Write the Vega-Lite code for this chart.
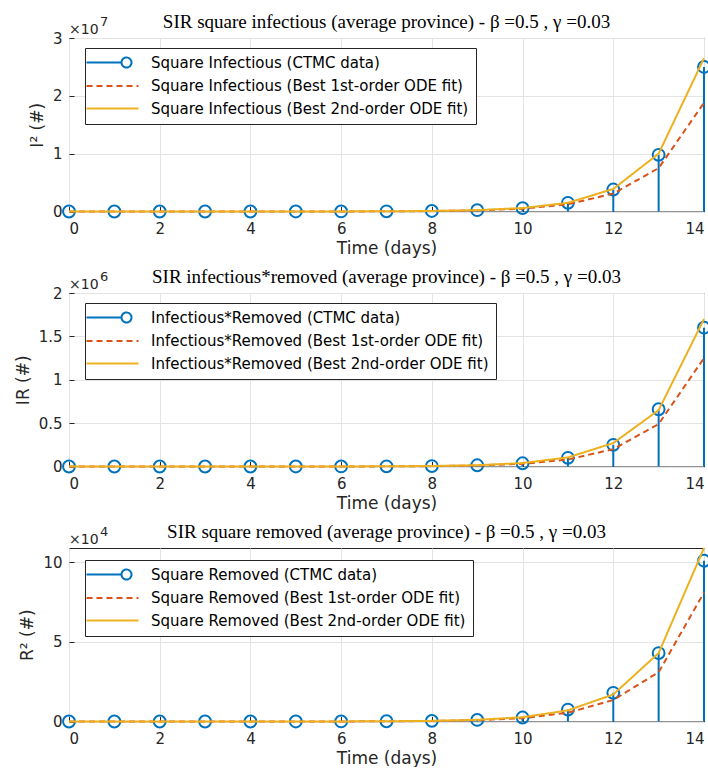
{
  "$schema": "https://vega.github.io/schema/vega-lite/v6.json",
  "padding": {"left": 13, "top": 12, "right": 0, "bottom": 0},
  "background": "white",
  "spacing": 10,
  "resolve": {"scale": {"color": "independent", "strokeDash": "independent"}},
  "config": {
    "font": "DejaVu Sans",
    "view": {"stroke": "#262626", "strokeWidth": 1},
    "axis": {
      "labelFont": "DejaVu Sans", "labelFontSize": 15, "labelColor": "#262626",
      "titleFont": "DejaVu Sans", "titleFontSize": 17, "titleFontWeight": "normal", "titleColor": "#262626",
      "gridColor": "#e3e3e3", "gridOpacity": 1, "domain": false, "tickColor": "#262626", "tickSize": -5
    },
    "axisX": {"labelPadding": 15, "titlePadding": 4},
    "axisY": {"labelPadding": 12, "titlePadding": 6},
    "title": {"font": "Liberation Serif", "fontSize": 19, "fontWeight": "normal", "color": "#000000", "offset": -16},
    "legend": {
      "fillColor": "white", "strokeColor": "#262626", "padding": 7,
      "labelFont": "DejaVu Sans", "labelFontSize": 15, "labelColor": "#000000", "labelLimit": 600,
      "symbolSize": 100, "symbolStrokeWidth": 2, "labelOffset": 44, "rowPadding": 6.5, "cornerRadius": 0
    }
  },
  "vconcat": [
    {
      "width": 635, "height": 173.5,
      "title": "SIR square infectious (average province) - β =0.5 , γ =0.03",
      "data": {"values": [
        {"day": 0, "series": "Square Infectious (CTMC data)", "value": 50},
        {"day": 1, "series": "Square Infectious (CTMC data)", "value": 120},
        {"day": 2, "series": "Square Infectious (CTMC data)", "value": 320},
        {"day": 3, "series": "Square Infectious (CTMC data)", "value": 800},
        {"day": 4, "series": "Square Infectious (CTMC data)", "value": 2100},
        {"day": 5, "series": "Square Infectious (CTMC data)", "value": 5400},
        {"day": 6, "series": "Square Infectious (CTMC data)", "value": 14000},
        {"day": 7, "series": "Square Infectious (CTMC data)", "value": 35000},
        {"day": 8, "series": "Square Infectious (CTMC data)", "value": 90000},
        {"day": 9, "series": "Square Infectious (CTMC data)", "value": 230000},
        {"day": 10, "series": "Square Infectious (CTMC data)", "value": 580000},
        {"day": 11, "series": "Square Infectious (CTMC data)", "value": 1500000},
        {"day": 12, "series": "Square Infectious (CTMC data)", "value": 3800000},
        {"day": 13, "series": "Square Infectious (CTMC data)", "value": 9800000},
        {"day": 14, "series": "Square Infectious (CTMC data)", "value": 25000000},
        {"day": 0, "series": "Square Infectious (Best 1st-order ODE fit)", "value": 50},
        {"day": 1, "series": "Square Infectious (Best 1st-order ODE fit)", "value": 120},
        {"day": 2, "series": "Square Infectious (Best 1st-order ODE fit)", "value": 300},
        {"day": 3, "series": "Square Infectious (Best 1st-order ODE fit)", "value": 760},
        {"day": 4, "series": "Square Infectious (Best 1st-order ODE fit)", "value": 1900},
        {"day": 5, "series": "Square Infectious (Best 1st-order ODE fit)", "value": 4800},
        {"day": 6, "series": "Square Infectious (Best 1st-order ODE fit)", "value": 12000},
        {"day": 7, "series": "Square Infectious (Best 1st-order ODE fit)", "value": 30000},
        {"day": 8, "series": "Square Infectious (Best 1st-order ODE fit)", "value": 76000},
        {"day": 9, "series": "Square Infectious (Best 1st-order ODE fit)", "value": 190000},
        {"day": 10, "series": "Square Infectious (Best 1st-order ODE fit)", "value": 480000},
        {"day": 11, "series": "Square Infectious (Best 1st-order ODE fit)", "value": 1250000},
        {"day": 12, "series": "Square Infectious (Best 1st-order ODE fit)", "value": 3100000},
        {"day": 13, "series": "Square Infectious (Best 1st-order ODE fit)", "value": 7500000},
        {"day": 14, "series": "Square Infectious (Best 1st-order ODE fit)", "value": 18800000},
        {"day": 0, "series": "Square Infectious (Best 2nd-order ODE fit)", "value": 60},
        {"day": 1, "series": "Square Infectious (Best 2nd-order ODE fit)", "value": 150},
        {"day": 2, "series": "Square Infectious (Best 2nd-order ODE fit)", "value": 380},
        {"day": 3, "series": "Square Infectious (Best 2nd-order ODE fit)", "value": 950},
        {"day": 4, "series": "Square Infectious (Best 2nd-order ODE fit)", "value": 2400},
        {"day": 5, "series": "Square Infectious (Best 2nd-order ODE fit)", "value": 6000},
        {"day": 6, "series": "Square Infectious (Best 2nd-order ODE fit)", "value": 15000},
        {"day": 7, "series": "Square Infectious (Best 2nd-order ODE fit)", "value": 38000},
        {"day": 8, "series": "Square Infectious (Best 2nd-order ODE fit)", "value": 95000},
        {"day": 9, "series": "Square Infectious (Best 2nd-order ODE fit)", "value": 240000},
        {"day": 10, "series": "Square Infectious (Best 2nd-order ODE fit)", "value": 600000},
        {"day": 11, "series": "Square Infectious (Best 2nd-order ODE fit)", "value": 1500000},
        {"day": 12, "series": "Square Infectious (Best 2nd-order ODE fit)", "value": 3900000},
        {"day": 13, "series": "Square Infectious (Best 2nd-order ODE fit)", "value": 10000000},
        {"day": 14, "series": "Square Infectious (Best 2nd-order ODE fit)", "value": 26500000}
      ]},
      "encoding": {
        "x": {"field": "day", "type": "quantitative", "scale": {"domain": [0, 14], "nice": false, "zero": false},
              "axis": {"title": "Time (days)", "values": [0, 2, 4, 6, 8, 10, 12, 14], "grid": true}}
      },
      "layer": [
        {
          "transform": [{"filter": "indexof(datum.series, 'CTMC') >= 0"}],
          "mark": {"type": "rule", "color": "#0072BD", "strokeWidth": 2},
          "encoding": {
            "y": {"field": "value", "type": "quantitative", "scale": {"domain": [0, 30000000], "nice": false},
                  "axis": {"title": "I² (#)", "values": [0, 10000000, 20000000, 30000000], "labelExpr": "format(datum.value / 1e7, '~g')", "grid": true}},
            "y2": {"datum": 0}
          }
        },
        {
          "transform": [{"filter": "indexof(datum.series, 'CTMC') >= 0"}],
          "mark": {"type": "point", "shape": "circle", "filled": false, "color": "#0072BD", "size": 140, "strokeWidth": 2, "opacity": 1},
          "encoding": {"y": {"field": "value", "type": "quantitative"}}
        },
        {
          "transform": [{"filter": "indexof(datum.series, '1st') >= 0"}],
          "mark": {"type": "line", "strokeWidth": 2},
          "encoding": {
            "y": {"field": "value", "type": "quantitative"},
            "color": {"field": "series", "type": "nominal",
              "scale": {"domain": ["Square Infectious (CTMC data)", "Square Infectious (Best 1st-order ODE fit)", "Square Infectious (Best 2nd-order ODE fit)"], "range": ["#0072BD", "#D95319", "#EDB120"]},
              "legend": {"title": null, "orient": "none", "legendX": 16, "legendY": 10,
                "encode": {"symbols": {"update": {"shape": {"signal": "indexof(datum.value, 'CTMC') >= 0 ? 'M-2.6,0H4.4M6.4,0A1,1 0 1,1 4.4,0A1,1 0 1,1 6.4,0' : 'M-2.6,0H7.8'"}, "fill": {"value": "transparent"}}}}}},
            "strokeDash": {"field": "series", "type": "nominal",
              "scale": {"domain": ["Square Infectious (CTMC data)", "Square Infectious (Best 1st-order ODE fit)", "Square Infectious (Best 2nd-order ODE fit)"], "range": [[1, 0], [6, 4], [1, 0]]},
              "legend": {"title": null, "orient": "none", "legendX": 16, "legendY": 10}}
          }
        },
        {
          "transform": [{"filter": "indexof(datum.series, '2nd') >= 0"}],
          "mark": {"type": "line", "strokeWidth": 2},
          "encoding": {
            "y": {"field": "value", "type": "quantitative"},
            "color": {"field": "series", "type": "nominal"},
            "strokeDash": {"field": "series", "type": "nominal"}
          }
        },
        {
          "transform": [{"filter": "datum.day == 0 && indexof(datum.series, 'CTMC') >= 0"}],
          "mark": {"type": "text", "text": "×10", "align": "left", "baseline": "alphabetic", "dy": -4, "font": "DejaVu Sans", "fontSize": 14, "color": "#262626"},
          "encoding": {"x": {"datum": 0}, "y": {"datum": 30000000}}
        },
        {
          "transform": [{"filter": "datum.day == 0 && indexof(datum.series, 'CTMC') >= 0"}],
          "mark": {"type": "text", "text": "7", "align": "left", "baseline": "alphabetic", "dx": 31, "dy": -12, "font": "DejaVu Sans", "fontSize": 13, "color": "#262626"},
          "encoding": {"x": {"datum": 0}, "y": {"datum": 30000000}}
        }
      ]
    },
    {
      "width": 635, "height": 173.5,
      "title": "SIR infectious*removed (average province) - β =0.5 , γ =0.03",
      "data": {"values": [
        {"day": 0, "series": "Infectious*Removed (CTMC data)", "value": 0},
        {"day": 1, "series": "Infectious*Removed (CTMC data)", "value": 3},
        {"day": 2, "series": "Infectious*Removed (CTMC data)", "value": 10},
        {"day": 3, "series": "Infectious*Removed (CTMC data)", "value": 30},
        {"day": 4, "series": "Infectious*Removed (CTMC data)", "value": 90},
        {"day": 5, "series": "Infectious*Removed (CTMC data)", "value": 250},
        {"day": 6, "series": "Infectious*Removed (CTMC data)", "value": 700},
        {"day": 7, "series": "Infectious*Removed (CTMC data)", "value": 1900},
        {"day": 8, "series": "Infectious*Removed (CTMC data)", "value": 5200},
        {"day": 9, "series": "Infectious*Removed (CTMC data)", "value": 14000},
        {"day": 10, "series": "Infectious*Removed (CTMC data)", "value": 37000},
        {"day": 11, "series": "Infectious*Removed (CTMC data)", "value": 100000},
        {"day": 12, "series": "Infectious*Removed (CTMC data)", "value": 250000},
        {"day": 13, "series": "Infectious*Removed (CTMC data)", "value": 660000},
        {"day": 14, "series": "Infectious*Removed (CTMC data)", "value": 1600000},
        {"day": 0, "series": "Infectious*Removed (Best 1st-order ODE fit)", "value": 0},
        {"day": 1, "series": "Infectious*Removed (Best 1st-order ODE fit)", "value": 4},
        {"day": 2, "series": "Infectious*Removed (Best 1st-order ODE fit)", "value": 12},
        {"day": 3, "series": "Infectious*Removed (Best 1st-order ODE fit)", "value": 33},
        {"day": 4, "series": "Infectious*Removed (Best 1st-order ODE fit)", "value": 90},
        {"day": 5, "series": "Infectious*Removed (Best 1st-order ODE fit)", "value": 240},
        {"day": 6, "series": "Infectious*Removed (Best 1st-order ODE fit)", "value": 640},
        {"day": 7, "series": "Infectious*Removed (Best 1st-order ODE fit)", "value": 1700},
        {"day": 8, "series": "Infectious*Removed (Best 1st-order ODE fit)", "value": 4500},
        {"day": 9, "series": "Infectious*Removed (Best 1st-order ODE fit)", "value": 12000},
        {"day": 10, "series": "Infectious*Removed (Best 1st-order ODE fit)", "value": 31000},
        {"day": 11, "series": "Infectious*Removed (Best 1st-order ODE fit)", "value": 80000},
        {"day": 12, "series": "Infectious*Removed (Best 1st-order ODE fit)", "value": 200000},
        {"day": 13, "series": "Infectious*Removed (Best 1st-order ODE fit)", "value": 490000},
        {"day": 14, "series": "Infectious*Removed (Best 1st-order ODE fit)", "value": 1250000},
        {"day": 0, "series": "Infectious*Removed (Best 2nd-order ODE fit)", "value": 0},
        {"day": 1, "series": "Infectious*Removed (Best 2nd-order ODE fit)", "value": 5},
        {"day": 2, "series": "Infectious*Removed (Best 2nd-order ODE fit)", "value": 15},
        {"day": 3, "series": "Infectious*Removed (Best 2nd-order ODE fit)", "value": 40},
        {"day": 4, "series": "Infectious*Removed (Best 2nd-order ODE fit)", "value": 110},
        {"day": 5, "series": "Infectious*Removed (Best 2nd-order ODE fit)", "value": 300},
        {"day": 6, "series": "Infectious*Removed (Best 2nd-order ODE fit)", "value": 800},
        {"day": 7, "series": "Infectious*Removed (Best 2nd-order ODE fit)", "value": 2100},
        {"day": 8, "series": "Infectious*Removed (Best 2nd-order ODE fit)", "value": 5600},
        {"day": 9, "series": "Infectious*Removed (Best 2nd-order ODE fit)", "value": 15000},
        {"day": 10, "series": "Infectious*Removed (Best 2nd-order ODE fit)", "value": 40000},
        {"day": 11, "series": "Infectious*Removed (Best 2nd-order ODE fit)", "value": 105000},
        {"day": 12, "series": "Infectious*Removed (Best 2nd-order ODE fit)", "value": 270000},
        {"day": 13, "series": "Infectious*Removed (Best 2nd-order ODE fit)", "value": 650000},
        {"day": 14, "series": "Infectious*Removed (Best 2nd-order ODE fit)", "value": 1700000}
      ]},
      "encoding": {
        "x": {"field": "day", "type": "quantitative", "scale": {"domain": [0, 14], "nice": false, "zero": false},
              "axis": {"title": "Time (days)", "values": [0, 2, 4, 6, 8, 10, 12, 14], "grid": true}}
      },
      "layer": [
        {
          "transform": [{"filter": "indexof(datum.series, 'CTMC') >= 0"}],
          "mark": {"type": "rule", "color": "#0072BD", "strokeWidth": 2},
          "encoding": {
            "y": {"field": "value", "type": "quantitative", "scale": {"domain": [0, 2000000], "nice": false},
                  "axis": {"title": "IR (#)", "values": [0, 500000, 1000000, 1500000, 2000000], "labelExpr": "format(datum.value / 1e6, '~g')", "grid": true}},
            "y2": {"datum": 0}
          }
        },
        {
          "transform": [{"filter": "indexof(datum.series, 'CTMC') >= 0"}],
          "mark": {"type": "point", "shape": "circle", "filled": false, "color": "#0072BD", "size": 140, "strokeWidth": 2, "opacity": 1},
          "encoding": {"y": {"field": "value", "type": "quantitative"}}
        },
        {
          "transform": [{"filter": "indexof(datum.series, '1st') >= 0"}],
          "mark": {"type": "line", "strokeWidth": 2},
          "encoding": {
            "y": {"field": "value", "type": "quantitative"},
            "color": {"field": "series", "type": "nominal",
              "scale": {"domain": ["Infectious*Removed (CTMC data)", "Infectious*Removed (Best 1st-order ODE fit)", "Infectious*Removed (Best 2nd-order ODE fit)"], "range": ["#0072BD", "#D95319", "#EDB120"]},
              "legend": {"title": null, "orient": "none", "legendX": 16, "legendY": 10,
                "encode": {"symbols": {"update": {"shape": {"signal": "indexof(datum.value, 'CTMC') >= 0 ? 'M-2.6,0H4.4M6.4,0A1,1 0 1,1 4.4,0A1,1 0 1,1 6.4,0' : 'M-2.6,0H7.8'"}, "fill": {"value": "transparent"}}}}}},
            "strokeDash": {"field": "series", "type": "nominal",
              "scale": {"domain": ["Infectious*Removed (CTMC data)", "Infectious*Removed (Best 1st-order ODE fit)", "Infectious*Removed (Best 2nd-order ODE fit)"], "range": [[1, 0], [6, 4], [1, 0]]},
              "legend": {"title": null, "orient": "none", "legendX": 16, "legendY": 10}}
          }
        },
        {
          "transform": [{"filter": "indexof(datum.series, '2nd') >= 0"}],
          "mark": {"type": "line", "strokeWidth": 2},
          "encoding": {
            "y": {"field": "value", "type": "quantitative"},
            "color": {"field": "series", "type": "nominal"},
            "strokeDash": {"field": "series", "type": "nominal"}
          }
        },
        {
          "transform": [{"filter": "datum.day == 0 && indexof(datum.series, 'CTMC') >= 0"}],
          "mark": {"type": "text", "text": "×10", "align": "left", "baseline": "alphabetic", "dy": -4, "font": "DejaVu Sans", "fontSize": 14, "color": "#262626"},
          "encoding": {"x": {"datum": 0}, "y": {"datum": 2000000}}
        },
        {
          "transform": [{"filter": "datum.day == 0 && indexof(datum.series, 'CTMC') >= 0"}],
          "mark": {"type": "text", "text": "6", "align": "left", "baseline": "alphabetic", "dx": 31, "dy": -12, "font": "DejaVu Sans", "fontSize": 13, "color": "#262626"},
          "encoding": {"x": {"datum": 0}, "y": {"datum": 2000000}}
        }
      ]
    },
    {
      "width": 635, "height": 173.5,
      "title": "SIR square removed (average province) - β =0.5 , γ =0.03",
      "data": {"values": [
        {"day": 0, "series": "Square Removed (CTMC data)", "value": 0},
        {"day": 1, "series": "Square Removed (CTMC data)", "value": 0},
        {"day": 2, "series": "Square Removed (CTMC data)", "value": 1},
        {"day": 3, "series": "Square Removed (CTMC data)", "value": 2},
        {"day": 4, "series": "Square Removed (CTMC data)", "value": 7},
        {"day": 5, "series": "Square Removed (CTMC data)", "value": 20},
        {"day": 6, "series": "Square Removed (CTMC data)", "value": 55},
        {"day": 7, "series": "Square Removed (CTMC data)", "value": 150},
        {"day": 8, "series": "Square Removed (CTMC data)", "value": 400},
        {"day": 9, "series": "Square Removed (CTMC data)", "value": 1000},
        {"day": 10, "series": "Square Removed (CTMC data)", "value": 2500},
        {"day": 11, "series": "Square Removed (CTMC data)", "value": 7500},
        {"day": 12, "series": "Square Removed (CTMC data)", "value": 18000},
        {"day": 13, "series": "Square Removed (CTMC data)", "value": 43000},
        {"day": 14, "series": "Square Removed (CTMC data)", "value": 101000},
        {"day": 0, "series": "Square Removed (Best 1st-order ODE fit)", "value": 0},
        {"day": 1, "series": "Square Removed (Best 1st-order ODE fit)", "value": 0},
        {"day": 2, "series": "Square Removed (Best 1st-order ODE fit)", "value": 1},
        {"day": 3, "series": "Square Removed (Best 1st-order ODE fit)", "value": 3},
        {"day": 4, "series": "Square Removed (Best 1st-order ODE fit)", "value": 8},
        {"day": 5, "series": "Square Removed (Best 1st-order ODE fit)", "value": 20},
        {"day": 6, "series": "Square Removed (Best 1st-order ODE fit)", "value": 50},
        {"day": 7, "series": "Square Removed (Best 1st-order ODE fit)", "value": 130},
        {"day": 8, "series": "Square Removed (Best 1st-order ODE fit)", "value": 340},
        {"day": 9, "series": "Square Removed (Best 1st-order ODE fit)", "value": 850},
        {"day": 10, "series": "Square Removed (Best 1st-order ODE fit)", "value": 2100},
        {"day": 11, "series": "Square Removed (Best 1st-order ODE fit)", "value": 5500},
        {"day": 12, "series": "Square Removed (Best 1st-order ODE fit)", "value": 13500},
        {"day": 13, "series": "Square Removed (Best 1st-order ODE fit)", "value": 31000},
        {"day": 14, "series": "Square Removed (Best 1st-order ODE fit)", "value": 81000},
        {"day": 0, "series": "Square Removed (Best 2nd-order ODE fit)", "value": 0},
        {"day": 1, "series": "Square Removed (Best 2nd-order ODE fit)", "value": 0},
        {"day": 2, "series": "Square Removed (Best 2nd-order ODE fit)", "value": 1},
        {"day": 3, "series": "Square Removed (Best 2nd-order ODE fit)", "value": 3},
        {"day": 4, "series": "Square Removed (Best 2nd-order ODE fit)", "value": 9},
        {"day": 5, "series": "Square Removed (Best 2nd-order ODE fit)", "value": 24},
        {"day": 6, "series": "Square Removed (Best 2nd-order ODE fit)", "value": 60},
        {"day": 7, "series": "Square Removed (Best 2nd-order ODE fit)", "value": 160},
        {"day": 8, "series": "Square Removed (Best 2nd-order ODE fit)", "value": 400},
        {"day": 9, "series": "Square Removed (Best 2nd-order ODE fit)", "value": 1050},
        {"day": 10, "series": "Square Removed (Best 2nd-order ODE fit)", "value": 2700},
        {"day": 11, "series": "Square Removed (Best 2nd-order ODE fit)", "value": 7000},
        {"day": 12, "series": "Square Removed (Best 2nd-order ODE fit)", "value": 17000},
        {"day": 13, "series": "Square Removed (Best 2nd-order ODE fit)", "value": 43000},
        {"day": 14, "series": "Square Removed (Best 2nd-order ODE fit)", "value": 109000}
      ]},
      "encoding": {
        "x": {"field": "day", "type": "quantitative", "scale": {"domain": [0, 14], "nice": false, "zero": false},
              "axis": {"title": "Time (days)", "values": [0, 2, 4, 6, 8, 10, 12, 14], "grid": true}}
      },
      "layer": [
        {
          "transform": [{"filter": "indexof(datum.series, 'CTMC') >= 0"}],
          "mark": {"type": "rule", "color": "#0072BD", "strokeWidth": 2},
          "encoding": {
            "y": {"field": "value", "type": "quantitative", "scale": {"domain": [0, 109000], "nice": false},
                  "axis": {"title": "R² (#)", "values": [0, 50000, 100000], "labelExpr": "format(datum.value / 1e4, '~g')", "grid": true}},
            "y2": {"datum": 0}
          }
        },
        {
          "transform": [{"filter": "indexof(datum.series, 'CTMC') >= 0"}],
          "mark": {"type": "point", "shape": "circle", "filled": false, "color": "#0072BD", "size": 140, "strokeWidth": 2, "opacity": 1},
          "encoding": {"y": {"field": "value", "type": "quantitative"}}
        },
        {
          "transform": [{"filter": "indexof(datum.series, '1st') >= 0"}],
          "mark": {"type": "line", "strokeWidth": 2},
          "encoding": {
            "y": {"field": "value", "type": "quantitative"},
            "color": {"field": "series", "type": "nominal",
              "scale": {"domain": ["Square Removed (CTMC data)", "Square Removed (Best 1st-order ODE fit)", "Square Removed (Best 2nd-order ODE fit)"], "range": ["#0072BD", "#D95319", "#EDB120"]},
              "legend": {"title": null, "orient": "none", "legendX": 16, "legendY": 12,
                "encode": {"symbols": {"update": {"shape": {"signal": "indexof(datum.value, 'CTMC') >= 0 ? 'M-2.6,0H4.4M6.4,0A1,1 0 1,1 4.4,0A1,1 0 1,1 6.4,0' : 'M-2.6,0H7.8'"}, "fill": {"value": "transparent"}}}}}},
            "strokeDash": {"field": "series", "type": "nominal",
              "scale": {"domain": ["Square Removed (CTMC data)", "Square Removed (Best 1st-order ODE fit)", "Square Removed (Best 2nd-order ODE fit)"], "range": [[1, 0], [6, 4], [1, 0]]},
              "legend": {"title": null, "orient": "none", "legendX": 16, "legendY": 12}}
          }
        },
        {
          "transform": [{"filter": "indexof(datum.series, '2nd') >= 0"}],
          "mark": {"type": "line", "strokeWidth": 2},
          "encoding": {
            "y": {"field": "value", "type": "quantitative"},
            "color": {"field": "series", "type": "nominal"},
            "strokeDash": {"field": "series", "type": "nominal"}
          }
        },
        {
          "transform": [{"filter": "datum.day == 0 && indexof(datum.series, 'CTMC') >= 0"}],
          "mark": {"type": "text", "text": "×10", "align": "left", "baseline": "alphabetic", "dy": -4, "font": "DejaVu Sans", "fontSize": 14, "color": "#262626"},
          "encoding": {"x": {"datum": 0}, "y": {"datum": 109000}}
        },
        {
          "transform": [{"filter": "datum.day == 0 && indexof(datum.series, 'CTMC') >= 0"}],
          "mark": {"type": "text", "text": "4", "align": "left", "baseline": "alphabetic", "dx": 31, "dy": -12, "font": "DejaVu Sans", "fontSize": 13, "color": "#262626"},
          "encoding": {"x": {"datum": 0}, "y": {"datum": 109000}}
        }
      ]
    }
  ]
}
